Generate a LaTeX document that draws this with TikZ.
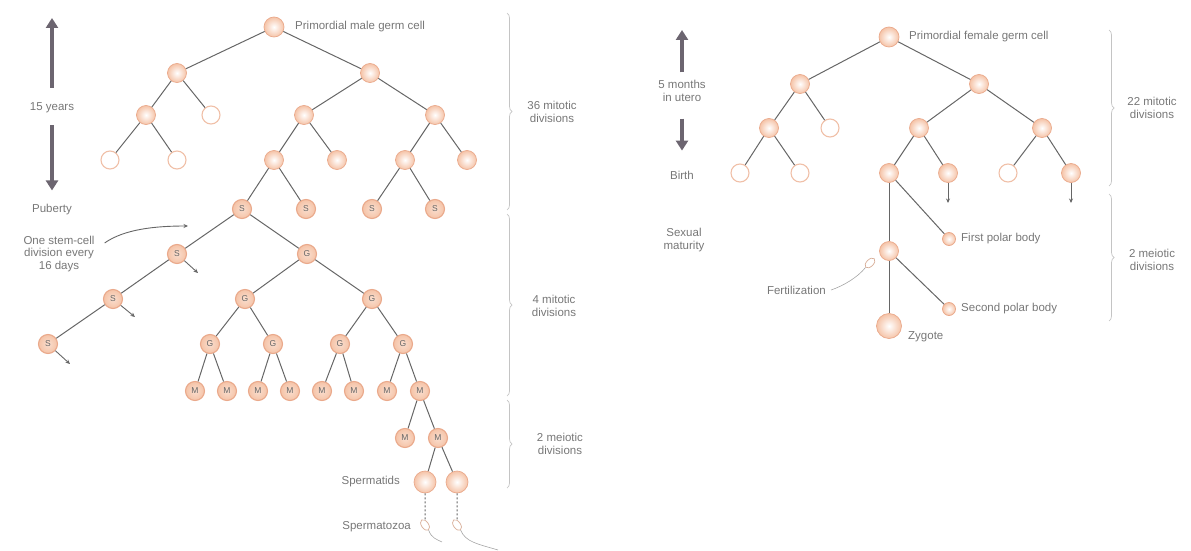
\documentclass[tikz,border=0pt]{standalone}
\usepackage{fontspec}
\setmainfont{Liberation Sans}
\usetikzlibrary{arrows.meta,decorations.pathreplacing,shapes.geometric}
\definecolor{peach}{HTML}{F5C3A7}
\definecolor{ring}{HTML}{EAA98B}
\definecolor{lring}{HTML}{F0C0A8}
\definecolor{linec}{HTML}{666666}
\definecolor{txt}{HTML}{777777}
\definecolor{tarrowc}{HTML}{6C6570}
\definecolor{bracec}{HTML}{C4C4C4}
\begin{document}
\begin{tikzpicture}[x=1pt,y=-1pt,
  cell/.style={circle,minimum size=19pt,inner sep=0pt,draw=ring,line width=0.7pt,inner color=white,outer color=peach},
  bigcell/.style={cell,minimum size=20pt},
  lcell/.style={circle,minimum size=18pt,inner sep=0pt,draw=lring,line width=1.1pt,fill=white},
  kcell/.style={circle,minimum size=19pt,inner sep=0pt,draw=ring,line width=1.1pt,inner color=peach!55,outer color=peach,
     font=\fontsize{8.5}{8.5}\selectfont,text=black!60},
  polar/.style={circle,minimum size=13pt,inner sep=0pt,draw=ring,line width=0.8pt,inner color=white,outer color=peach},
  spermatid/.style={circle,minimum size=22pt,inner sep=0pt,draw=ring,line width=0.7pt,inner color=white,outer color=peach},
  zyg/.style={circle,minimum size=25pt,inner sep=0pt,draw=ring,line width=0.7pt,inner color=white,outer color=peach},
  sperm/.style={ellipse,minimum width=7pt,minimum height=12pt,inner sep=0pt,draw=lring!90!black,line width=0.7pt,fill=white},
  link/.style={draw=linec,line width=1pt},
  faint/.style={draw=black!35,line width=0.6pt},
  sarr/.style={draw=linec,line width=0.9pt,-{Stealth[length=4.5pt,width=4pt]}},
  tarr/.style={draw=tarrowc,line width=3.8pt,-{Triangle[length=10pt,width=12pt]}},
  lbl/.style={font=\fontsize{11.5}{12.5}\selectfont,text=txt,inner sep=0pt},
  lblc/.style={lbl,align=center},
  bracestyle/.style={draw=bracec,line width=0.7pt,decorate,decoration={brace,amplitude=5pt}}
]
\useasboundingbox (0,0) rectangle (1191,551);

% ---------------- LEFT: male ----------------
\node[lbl] (y15) at (52,108) {15 years};
\node[lbl] (pub) at (52,210) {Puberty};
\coordinate (y15top) at (52,18);
\draw[tarr,shorten <=15pt] (y15.north) -- (y15top);
\draw[tarr,shorten <=12pt,shorten >=14pt] (y15.south) -- (pub.north);
\node[lblc] (stem) at (59,254) {One stem-cell\\division every\\16 days};
\coordinate (stemtip) at (188,226);
\draw[sarr] ([shift={(10,7)}]stem.north east) .. controls +(20,-14) and +(-32,0) .. (stemtip);

\node[bigcell] (r0) at (274,27) {};
\node[lbl,anchor=west] (lr0) at (295,27) {Primordial male germ cell};
\node[cell] (a1) at (177,73) {};
\node[cell] (a2) at (370,73) {};
\node[cell] (b1) at (146,115) {};
\node[lcell] (b2) at (211,115) {};
\node[cell] (b3) at (304,115) {};
\node[cell] (b4) at (435,115) {};
\node[lcell] (c1) at (110,160) {};
\node[lcell] (c2) at (177,160) {};
\node[cell] (c3) at (274,160) {};
\node[cell] (c4) at (337,160) {};
\node[cell] (c5) at (405,160) {};
\node[cell] (c6) at (467,160) {};
\node[kcell] (s1) at (242,209) {S};
\node[kcell] (s2) at (306,209) {S};
\node[kcell] (s3) at (372,209) {S};
\node[kcell] (s4) at (435,209) {S};
\node[kcell] (t1) at (177,254) {S};
\node[kcell] (g1) at (307,254) {G};
\node[kcell] (t2) at (113,299) {S};
\node[kcell] (g2) at (245,299) {G};
\node[kcell] (g3) at (372,299) {G};
\node[kcell] (t3) at (48,344) {S};
\node[kcell] (h1) at (210,344) {G};
\node[kcell] (h2) at (273,344) {G};
\node[kcell] (h3) at (340,344) {G};
\node[kcell] (h4) at (403,344) {G};
\foreach \i/\x in {1/195,2/227,3/258,4/290,5/322,6/354,7/387,8/420}
  \node[kcell] (m\i) at (\x,391) {M};
\node[kcell] (n1) at (405,438) {M};
\node[kcell] (n2) at (438,438) {M};
\node[spermatid] (p1) at (425,482) {};
\node[spermatid] (p2) at (457,482) {};
\node[sperm,rotate=35] (z1) at (425,525) {};
\node[sperm,rotate=35] (z2) at (457,525) {};
\node[lbl,anchor=east] (lsp) at (400,482) {Spermatids};
\node[lbl,anchor=east] (lsz) at (411,527) {Spermatozoa};

\draw[link] (r0) -- (a1); \draw[link] (r0) -- (a2);
\draw[link] (a1) -- (b1); \draw[link] (a1) -- (b2);
\draw[link] (a2) -- (b3); \draw[link] (a2) -- (b4);
\draw[link] (b1) -- (c1); \draw[link] (b1) -- (c2);
\draw[link] (b3) -- (c3); \draw[link] (b3) -- (c4);
\draw[link] (b4) -- (c5); \draw[link] (b4) -- (c6);
\draw[link] (c3) -- (s1); \draw[link] (c3) -- (s2);
\draw[link] (c5) -- (s3); \draw[link] (c5) -- (s4);
\draw[link] (s1) -- (t1); \draw[link] (s1) -- (g1);
\draw[link] (t1) -- (t2); \draw[link] (t2) -- (t3);
\draw[link] (g1) -- (g2); \draw[link] (g1) -- (g3);
\draw[link] (g2) -- (h1); \draw[link] (g2) -- (h2);
\draw[link] (g3) -- (h3); \draw[link] (g3) -- (h4);
\draw[link] (h1) -- (m1); \draw[link] (h1) -- (m2);
\draw[link] (h2) -- (m3); \draw[link] (h2) -- (m4);
\draw[link] (h3) -- (m5); \draw[link] (h3) -- (m6);
\draw[link] (h4) -- (m7); \draw[link] (h4) -- (m8);
\draw[link] (m8) -- (n1); \draw[link] (m8) -- (n2);
\draw[link] (n2) -- (p1); \draw[link] (n2) -- (p2);
\draw[link,dash pattern=on 2pt off 2pt] (p1) -- (z1);
\draw[link,dash pattern=on 2pt off 2pt] (p2) -- (z2);
\coordinate (z1t) at (442,542);
\coordinate (z2t) at (498,550);
\draw[faint] (z1.south) .. controls +(3,8) and +(-6,-3) .. (z1t);
\draw[faint] (z2.south) .. controls +(5,12) and +(-20,-6) .. (z2t);

\coordinate (t1a) at (198,273);
\coordinate (t2a) at (135,317);
\coordinate (t3a) at (70,364);
\draw[sarr] (t1) -- (t1a);
\draw[sarr] (t2) -- (t2a);
\draw[sarr] (t3) -- (t3a);

\draw[bracestyle] (507,13) -- (507,210);
\draw[bracestyle] (507,214) -- (507,396);
\draw[bracestyle] (507,400) -- (507,488);
\node[lblc] (d36) at (552,112) {36 mitotic\\divisions};
\node[lblc] (d4) at (554,306) {4 mitotic\\divisions};
\node[lblc] (d2m) at (560,444) {2 meiotic\\divisions};

% ---------------- RIGHT: female ----------------
\node[lblc] (m5) at (682,91) {5 months\\in utero};
\node[lbl] (birth) at (682,175) {Birth};
\coordinate (m5top) at (682,30);
\draw[tarr,shorten <=8pt] (m5.north) -- (m5top);
\draw[tarr,shorten <=17pt,shorten >=20pt] (m5.south) -- (birth.north);
\node[lblc] (sexm) at (684,240) {Sexual\\maturity};

\node[bigcell] (R0) at (889,37) {};
\node[lbl,anchor=west] (lR0) at (909,37) {Primordial female germ cell};
\node[cell] (A1) at (800,84) {};
\node[cell] (A2) at (979,84) {};
\node[cell] (B1) at (769,128) {};
\node[lcell] (B2) at (830,128) {};
\node[cell] (B3) at (919,128) {};
\node[cell] (B4) at (1042,128) {};
\node[lcell] (C1) at (740,173) {};
\node[lcell] (C2) at (800,173) {};
\node[cell] (C3) at (889,173) {};
\node[cell] (C4) at (948,173) {};
\node[lcell] (C5) at (1008,173) {};
\node[cell] (C6) at (1071,173) {};
\node[cell] (D1) at (889,251) {};
\node[polar] (F1) at (949,239) {};
\node[polar] (F2) at (949,309) {};
\node[zyg] (Z) at (889,326) {};
\node[lbl,anchor=west] (lF1) at (961,239) {First polar body};
\node[lbl,anchor=west] (lF2) at (961,309) {Second polar body};
\node[lbl,anchor=west] (lZ) at (908,337) {Zygote};

\draw[link] (R0) -- (A1); \draw[link] (R0) -- (A2);
\draw[link] (A1) -- (B1); \draw[link] (A1) -- (B2);
\draw[link] (A2) -- (B3); \draw[link] (A2) -- (B4);
\draw[link] (B1) -- (C1); \draw[link] (B1) -- (C2);
\draw[link] (B3) -- (C3); \draw[link] (B3) -- (C4);
\draw[link] (B4) -- (C5); \draw[link] (B4) -- (C6);
\draw[link] (C3) -- (D1); \draw[link] (C3) -- (F1);
\draw[link] (D1) -- (Z); \draw[link] (D1) -- (F2);
\coordinate (C4a) at (948,203);
\coordinate (C6a) at (1071,203);
\draw[sarr] (C4) -- (C4a);
\draw[sarr] (C6) -- (C6a);

\node[sperm,rotate=-45] (fs) at (870,263) {};
\node[lbl,anchor=east] (lfert) at (826,290) {Fertilization};
\coordinate (fst) at (831,290);
\draw[faint] (fs.south) .. controls +(-8,10) and +(12,-4) .. (fst);

\draw[bracestyle] (1109,30) -- (1109,186);
\draw[bracestyle] (1109,194) -- (1109,321);
\node[lblc] (d22) at (1152,108) {22 mitotic\\divisions};
\node[lblc] (d2f) at (1152,260) {2 meiotic\\divisions};
\end{tikzpicture}
\end{document}
